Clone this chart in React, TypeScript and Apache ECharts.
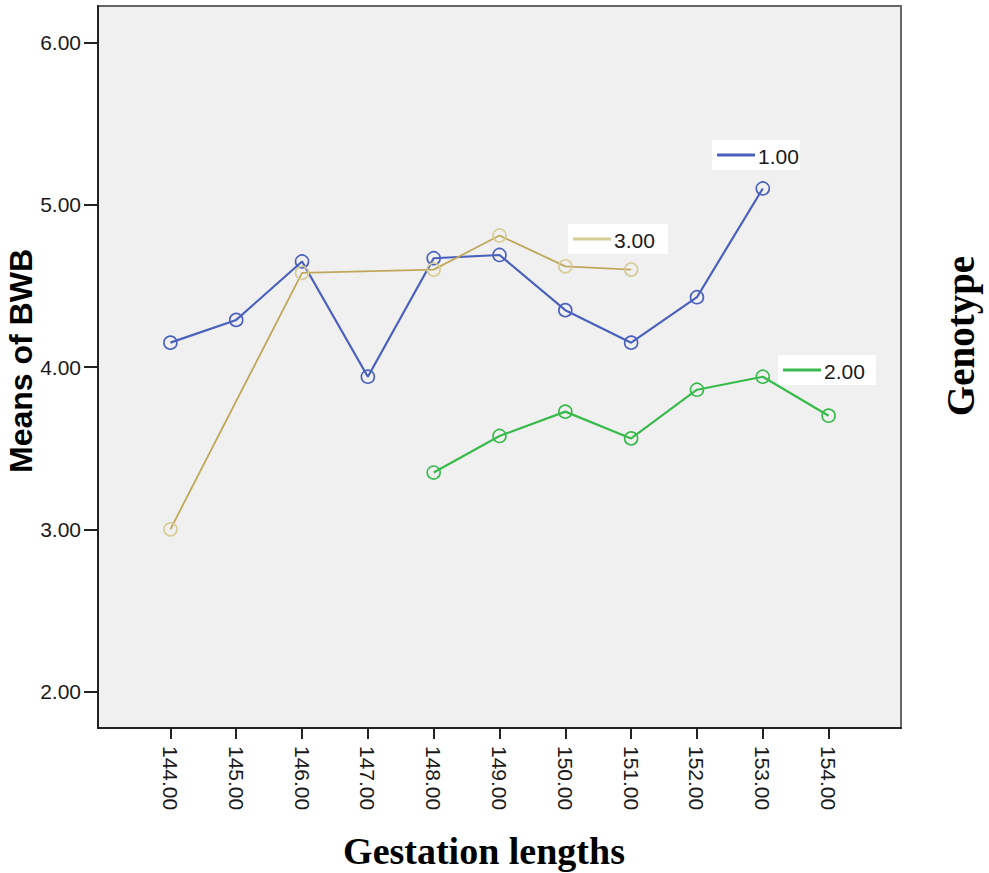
import React, { useEffect, useRef } from "react";
import * as echarts from "echarts";

const gestation = [144, 145, 146, 147, 148, 149, 150, 151, 152, 153, 154];
const genotype1 = [4.15, 4.29, 4.65, 3.94, 4.67, 4.69, 4.35, 4.15, 4.43, 5.10, null];
const genotype2 = [null, null, null, null, 3.35, 3.575, 3.725, 3.56, 3.86, 3.94, 3.70];
const genotype3 = [3.00, null, 4.58, null, 4.60, 4.81, 4.62, 4.60, null, null, null];
const yTicks = [2, 3, 4, 5, 6];
const legendNames = ["1.00", "2.00", "3.00"];

const pairs = (vals: (number | null)[]) =>
  gestation.map((g, i) => [g, vals[i]]).filter((p) => p[1] !== null);

const legendBox = (x: number, y: number, w: number, color: string, label: string) => ({
  type: "group",
  x,
  y,
  z: 100,
  children: [
    { type: "rect", shape: { x: 0, y: 0, width: w, height: 30 }, style: { fill: "#ffffff" } },
    { type: "line", shape: { x1: 5, y1: 15, x2: 43, y2: 15 }, style: { stroke: color, lineWidth: 3 } },
    {
      type: "text",
      x: 46,
      y: 16,
      style: { text: label, fill: "#1a1a1a", font: "21px 'Liberation Sans', Arial, sans-serif", verticalAlign: "middle", align: "left" },
    },
  ],
});

export default function App() {
  const ref = useRef<HTMLDivElement>(null);
  useEffect(() => {
    if (!ref.current) return;
    const chart = echarts.init(ref.current, null, { renderer: "svg" });
    const labelFont = { fontFamily: "'Liberation Sans', Arial, sans-serif", fontSize: 21, color: "#1a1a1a" };
    const mk = (color: string, border: string, lw: number, name: string, vals: (number | null)[]) => ({
      name,
      type: "line",
      data: pairs(vals),
      connectNulls: true,
      symbol: "circle",
      symbolSize: 13,
      lineStyle: { color, width: lw },
      itemStyle: { color: "rgba(0,0,0,0)", borderColor: border, borderWidth: 1.6 },
    });
    chart.setOption({
      animation: false,
      grid: {
        left: 98,
        top: 6,
        right: 88,
        bottom: 145,
        show: true,
        backgroundColor: "#f0f0f0",
        borderColor: "#666",
        borderWidth: 2,
      },
      xAxis: {
        type: "value",
        min: 142.9,
        max: 155.1,
        axisLine: { show: true, lineStyle: { color: "#222", width: 2 } },
        axisTick: { show: true, length: 11, lineStyle: { color: "#222", width: 2 }, customValues: gestation },
        axisLabel: {
          ...labelFont,
          rotate: -90,
          margin: 18,
          customValues: gestation,
          formatter: (v: number) => v.toFixed(2),
        },
        splitLine: { show: false },
      },
      yAxis: {
        type: "value",
        min: 1.776,
        max: 6.224,
        axisLine: { show: true, lineStyle: { color: "#222", width: 2 } },
        axisTick: { show: true, length: 14, lineStyle: { color: "#222", width: 2 }, customValues: yTicks },
        axisLabel: {
          ...labelFont,
          margin: 17,
          customValues: yTicks,
          formatter: (v: number) => v.toFixed(2),
        },
        splitLine: { show: false },
      },
      series: [
        mk("#4a60bd", "#4a60bd", 2.2, legendNames[0], genotype1),
        mk("#38bb4c", "#38bb4c", 2.2, legendNames[1], genotype2),
        mk("#bfa85c", "#d6cc96", 1.8, legendNames[2], genotype3),
      ],
      graphic: [
        legendBox(712, 140, 88, "#4a60bd", legendNames[0]),
        legendBox(568, 224, 100, "#d6cc96", legendNames[2]),
        legendBox(778, 355, 98, "#38bb4c", legendNames[1]),
        {
          type: "text",
          x: 21,
          y: 361,
          rotation: Math.PI / 2,
          style: {
            text: "Means of BWB",
            fill: "#000",
            font: "bold 32px 'Liberation Sans', Arial, sans-serif",
            align: "center",
            verticalAlign: "middle",
          },
        },
        {
          type: "text",
          x: 484,
          y: 851,
          style: {
            text: "Gestation lengths",
            fill: "#000",
            font: "bold 38px 'Liberation Serif', 'Times New Roman', serif",
            align: "center",
            verticalAlign: "middle",
          },
        },
        {
          type: "text",
          x: 960,
          y: 336,
          rotation: Math.PI / 2,
          style: {
            text: "Genotype",
            fill: "#000",
            font: "bold 39px 'Liberation Serif', 'Times New Roman', serif",
            align: "center",
            verticalAlign: "middle",
          },
        },
      ],
    });
    return () => chart.dispose();
  }, []);
  return (
    <div
      ref={ref}
      style={{ position: "fixed", left: 0, top: 0, width: 989, height: 873, background: "#fff" }}
    />
  );
}
